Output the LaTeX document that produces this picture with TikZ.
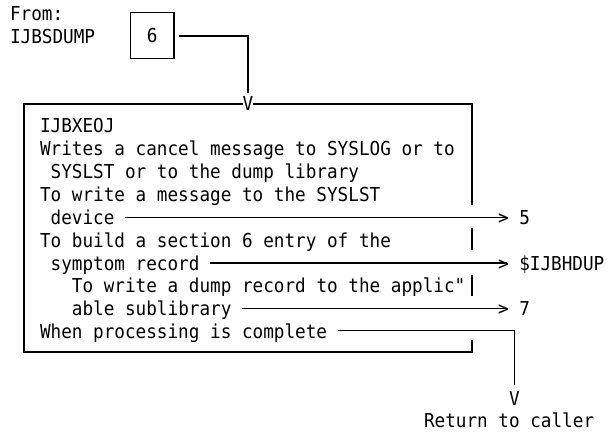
\documentclass[tikz,border=0pt]{standalone}
\usepackage{fontspec}
\newfontfamily\codefont{DejaVu Sans Mono}[FakeStretch=0.92]
\usetikzlibrary{calc}
\tikzset{
  txt/.style={anchor=base west, inner sep=0pt, outer sep=0pt,
              font=\codefont\fontsize{19.2bp}{22bp}\selectfont},
  rule/.style={line width=1.1bp, line cap=butt},
}
\begin{document}
\begin{tikzpicture}[x=1bp, y=-1bp]
\path[use as bounding box] (0,0) rectangle (608,433);

% caller and entry point
\node[txt] (from)   at (10,20.3) {From:};
\node[txt] (caller) at (10,43.7) {IJBSDUMP};
\node[draw, rule, inner sep=0pt, minimum width=43.3bp, minimum height=45.6bp,
      font=\codefont\fontsize{19.2bp}{22bp}\selectfont] (six) at (152.3,35.5) {6};
\node[txt, anchor=base] (vin) at (248,110.5) {V};
\draw[rule] ($(six.east)+(4,0.5)$) -| ($(vin.north)+(0,-3)$);

% the IJBXEOJ box, its right edge broken where the exits leave it
\coordinate (tl) at (24,104);
\coordinate (br) at (472,352);
\draw[rule] (vin.west |- tl) -- (tl) -- (tl |- br) -- (br) -- (472,340);
\draw[rule] (vin.east |- tl) -- (br |- tl) -- (472,205);
\draw[rule] (472,228) -- (472,250);
\draw[rule] (472,275) -- (472,296);

% box contents
\node[txt] (l1)  at (40,133)     {IJBXEOJ};
\node[txt] (l2)  at (40,155.9)   {Writes a cancel message to SYSLOG or to};
\node[txt] (l3)  at (50.64,178.7) {SYSLST or to the dump library};
\node[txt] (l4)  at (40,201.6)   {To write a message to the SYSLST};
\node[txt] (l5)  at (50.64,224.4) {device};
\node[txt] (l6)  at (40,247.3)   {To build a section 6 entry of the};
\node[txt] (l7)  at (50.64,270.2) {symptom record};
\node[txt] (l8)  at (71.92,293)   {To write a dump record to the applic"};
\node[txt] (l9)  at (71.92,315.9) {able sublibrary};
\node[txt] (l10) at (40,338.7)   {When processing is complete};

% exits
\node[txt] (t5)   at (498,224.4) {> 5};
\node[txt] (tdup) at (498,270.2) {> \$IJBHDUP};
\node[txt] (t7)   at (498,315.9) {> 7};

\draw[rule] ($(l5.base east)+(10.64,-7.2)$) -- ($(t5.base west)+(9,-7.2)$);
\draw[rule] ($(l7.base east)+(10.64,-7.2)$) -- ($(tdup.base west)+(9,-7.2)$);
\draw[rule] ($(l9.base east)+(10.64,-7.2)$) -- ($(t7.base west)+(9,-7.2)$);

% return
\node[txt, anchor=base] (vret) at (514.4,405) {V};
\node[txt] (ret) at (424,427) {Return to caller};
\draw[rule] ($(l10.base east)+(10.64,-8.5)$) -| ($(vret.north)+(0,-6)$);
\end{tikzpicture}
\end{document}
